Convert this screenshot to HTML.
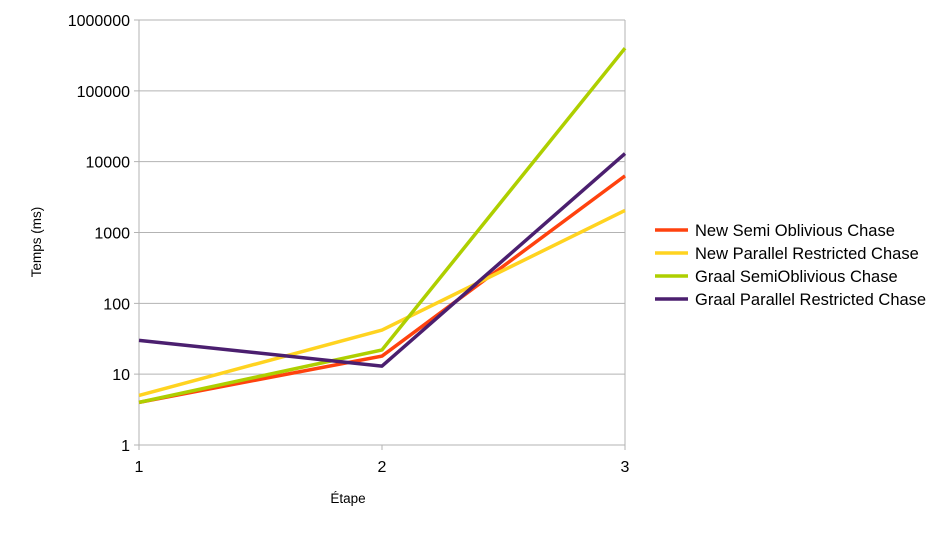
<!DOCTYPE html>
<html><head><meta charset="utf-8"><style>
body{margin:0;background:#fff;font-family:"Liberation Sans",sans-serif;}
</style></head><body>
<svg id="c" width="943" height="530" xmlns="http://www.w3.org/2000/svg" font-family="Liberation Sans, sans-serif"></svg>
<script>
const categories=["1","2","3"];
const yTicks=[1,10,100,1000,10000,100000,1000000];
const seriesNames=["New Semi Oblivious Chase","New Parallel Restricted Chase","Graal SemiOblivious Chase","Graal Parallel Restricted Chase"];
const seriesColors=["#ff420e","#ffd320","#aecf00","#4b1f6f"];
const newSemi=[4,18,6300];
const newPar=[5,42,2050];
const graalSemi=[4,22,400000];
const graalPar=[30,13,13000];
const seriesValues=[newSemi,newPar,graalSemi,graalPar];

const svg=document.getElementById('c');
const NS="http://www.w3.org/2000/svg";
const L=139,R=625,T=20,B=445;
function x(i){return L+i*(R-L)/(categories.length-1);}
function y(v){return B-(Math.log10(v)/6)*(B-T);}
function mk(tag,attrs,parent){const e=document.createElementNS(NS,tag);for(const k in attrs)e.setAttribute(k,attrs[k]);(parent||svg).appendChild(e);return e;}

const grid=mk('g',{});


yTicks.forEach(t=>{
  const l=mk('line',{x1:L-5,x2:R,y1:y(t),y2:y(t),stroke:'#b3b3b3','stroke-width':1},grid);
  
  
  const tx=mk('text',{x:L-9,y:y(t)+6,'text-anchor':'end','font-size':16,fill:'#000'});
  tx.textContent=t;
  
  
});
categories.forEach((c,i)=>{
  const edge=(i===0||i===categories.length-1);
  const l=mk('line',{x1:x(i),x2:x(i),y1:edge?T:B,y2:B+5,stroke:'#b3b3b3','stroke-width':1},grid);
  
  
  const tx=mk('text',{x:x(i),y:B+27,'text-anchor':'middle','font-size':16,fill:'#000'});
  tx.textContent=c;
  
  
});
seriesValues.forEach((vals,s)=>{
  const p=mk('polyline',{points:vals.map((v,i)=>x(i)+','+y(v)).join(' '),fill:'none',stroke:seriesColors[s],'stroke-width':3.5,'stroke-linejoin':'round'});
  
  
  const ly=230+s*23;
  const ll=mk('line',{x1:655,x2:688,y1:ly,y2:ly,stroke:seriesColors[s],'stroke-width':3.5});
  
  
  const lt=mk('text',{x:695,y:ly+6,'font-size':16.5,fill:'#000'});
  lt.textContent=seriesNames[s];
  
  
});
const yt=mk('text',{x:41,y:242,'text-anchor':'middle','font-size':13.5,fill:'#000',transform:'rotate(-90 41 242)'});
yt.textContent="Temps (ms)";


const xt=mk('text',{x:348,y:503,'text-anchor':'middle','font-size':13.5,fill:'#000'});
xt.textContent="Étape";


</script>
</body></html>
